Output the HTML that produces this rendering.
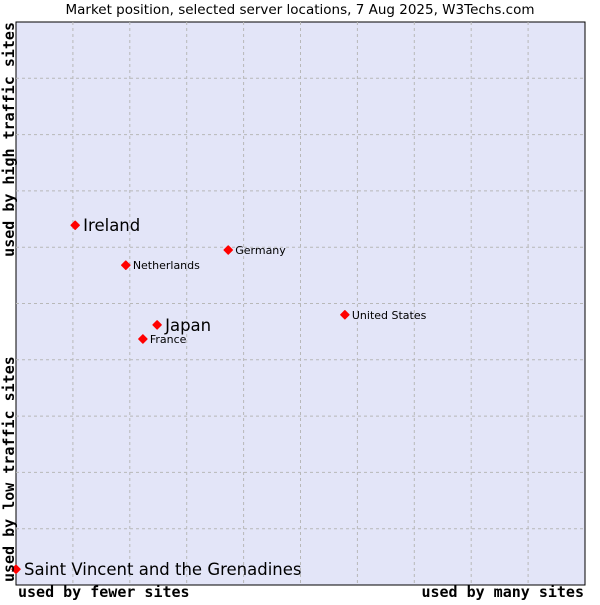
<!DOCTYPE html>
<html><head><meta charset="utf-8"><style>
body{margin:0;background:#fff;width:600px;height:600px;overflow:hidden}
svg text{font-family:"DejaVu Sans","Liberation Sans",sans-serif}
.mono{font-family:"DejaVu Sans Mono","Liberation Mono",monospace;font-weight:bold}
</style></head><body>
<svg id="chart" width="600" height="600">
<text x="300" y="14" font-size="13.5" text-anchor="middle" fill="#000">Market position, selected server locations, 7 Aug 2025, W3Techs.com</text>
<rect x="16" y="22" width="569" height="563" fill="#e3e5f8" stroke="#000" stroke-width="1"/>
<g id="grid"></g>
<g id="points"></g>
<text class="mono" x="18" y="597" font-size="15">used by fewer sites</text>
<text class="mono" x="584" y="597" font-size="15" text-anchor="end">used by many sites</text>
<text class="mono" transform="translate(14,22) rotate(-90)" font-size="15" text-anchor="end">used by high traffic sites</text>
<text class="mono" transform="translate(14,582) rotate(-90)" font-size="15">used by low traffic sites</text>
</svg>
<script>
const names = ["Saint Vincent and the Grenadines","Ireland","Netherlands","Germany","Japan","France","United States"];
const xValues = [0,10.4,19.3,37.3,24.8,22.3,57.8];
const yValues = [2.8,63.9,56.8,59.5,46.2,43.7,48.0];
const highlighted = [true,true,false,false,true,false,false];
const L=16,T=22,W=569,H=563;
const sx=v=>L+v/100*W, sy=v=>T+H-v/100*H;
const ns="http://www.w3.org/2000/svg";
const grid=document.getElementById('grid');
for(let i=1;i<10;i++){
  const v=document.createElementNS(ns,'line');
  v.setAttribute('x1',sx(i*10));v.setAttribute('x2',sx(i*10));v.setAttribute('y1',T);v.setAttribute('y2',T+H);
  v.setAttribute('stroke','#b8b8b8');v.setAttribute('stroke-dasharray','3,3');
  
  
  grid.appendChild(v);
  const h=document.createElementNS(ns,'line');
  h.setAttribute('y1',sy(i*10));h.setAttribute('y2',sy(i*10));h.setAttribute('x1',L);h.setAttribute('x2',L+W);
  h.setAttribute('stroke','#b8b8b8');h.setAttribute('stroke-dasharray','3,3');
  
  
  grid.appendChild(h);
}
const pts=document.getElementById('points');
names.forEach((n,i)=>{
  const x=sx(xValues[i]),y=sy(yValues[i]);
  const c=document.createElementNS(ns,'path');
  c.setAttribute('d',`M${x-4},${y} L${x},${y-4} L${x+4},${y} L${x},${y+4} Z`);
  c.setAttribute('fill','#ff0000');c.setAttribute('stroke','#ff0000');c.setAttribute('stroke-width','1.5');c.setAttribute('stroke-linejoin','round');
  
  
  pts.appendChild(c);
  const t=document.createElementNS(ns,'text');
  const big=highlighted[i];
  t.setAttribute('x',x+(big?8:7));t.setAttribute('y',y+(big?6:4));
  t.setAttribute('font-size',big?16.5:11);
  t.textContent=n;
  
  
  pts.appendChild(t);
});
</script>
</body></html>
